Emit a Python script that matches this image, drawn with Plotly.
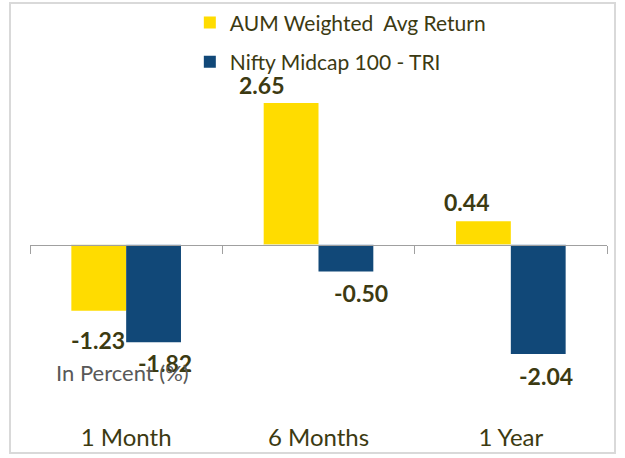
import plotly.graph_objects as go

categories = ["1 Month", "6 Months", "1 Year"]
series_names = ["AUM Weighted  Avg Return", "Nifty Midcap 100 - TRI"]
aum_returns = [-1.23, 2.65, 0.44]
nifty_returns = [-1.82, -0.50, -2.04]

# label nudges in pixels (dx, dy) for each bar's value label
aum_label_nudge = [(-1, -29), (-30, 18), (-17, 19)]
nifty_label_nudge = [(11, -21), (15, -21), (8, -22)]

YELLOW = "#FFDC00"
BLUE = "#114878"
LABEL = "#3C3A12"
FONT = "Lato, 'Open Sans', sans-serif"

fig = go.Figure()
fig.add_trace(go.Bar(x=categories, y=aum_returns, name=series_names[0],
                     marker=dict(color=YELLOW, line=dict(width=0)), legendgroup="a"))
fig.add_trace(go.Bar(x=categories, y=nifty_returns, name=series_names[1],
                     marker=dict(color=BLUE, line=dict(width=0)), legendgroup="b"))

ymin, ymax = -3.18, 3.08
zero_pos = (0 - ymin) / (ymax - ymin)

annotations = []
off = 0.143
for i, (a, n) in enumerate(zip(aum_returns, nifty_returns)):
    for val, dx_off, nudge in ((a, -off, aum_label_nudge[i]), (n, off, nifty_label_nudge[i])):
        annotations.append(dict(
            x=i + dx_off, y=val, xref="x", yref="y", text=f"{val:.2f}",
            showarrow=False, xshift=nudge[0], yshift=nudge[1],
            font=dict(family=FONT, size=23, color=LABEL, weight="bold"),
        ))
annotations.append(dict(
    x=(54 - 30) / 577, y=(415 - 372) / 335, xref="paper", yref="paper",
    xanchor="left", yanchor="middle", text="In Percent (%)", showarrow=False,
    font=dict(family=FONT, size=22, color="#595959"),
))

fig.update_layout(
    width=625, height=458,
    margin=dict(l=30, r=18, t=80, b=43, autoexpand=False),
    plot_bgcolor="white", paper_bgcolor="white",
    barmode="group", bargap=0.43, bargroupgap=0,
    font=dict(family=FONT, color=LABEL),
    showlegend=True,
    legend=dict(x=0.277, y=1.232, xanchor="left", yanchor="top",
                font=dict(family=FONT, size=21, color=LABEL),
                tracegroupgap=9, itemwidth=30, bgcolor="rgba(0,0,0,0)"),
    xaxis=dict(type="category", showline=False, ticks="", showgrid=False,
               ticklabelstandoff=6,
               tickfont=dict(family=FONT, size=24, color=LABEL)),
    xaxis2=dict(type="category", overlaying="x", anchor="free", position=zero_pos,
                matches="x", showline=True, linecolor="#a0a0a0", linewidth=1,
                ticks="outside", tickson="boundaries", ticklen=8, tickcolor="#a0a0a0",
                showticklabels=False, showgrid=False),
    yaxis=dict(range=[ymin, ymax], visible=False, showgrid=False, zeroline=False),
    annotations=annotations,
    shapes=[dict(type="rect", xref="paper", yref="paper",
                 x0=(10 - 30) / 577, x1=(615 - 30) / 577,
                 y0=(415 - 453) / 335, y1=(415 - 3) / 335,
                 line=dict(color="#d9d9d9", width=2), fillcolor="rgba(0,0,0,0)", layer="below")],
)
# invisible trace to activate xaxis2 (zero axis with boundary ticks)
fig.add_trace(go.Bar(x=categories, y=[0, 0, 0], xaxis="x2", showlegend=False,
                     hoverinfo="skip", marker=dict(color="rgba(0,0,0,0)")))

fig.write_html("out.html", config={"displayModeBar": False},
               post_script="document.body.style.margin='0';document.body.style.overflow='hidden';")
